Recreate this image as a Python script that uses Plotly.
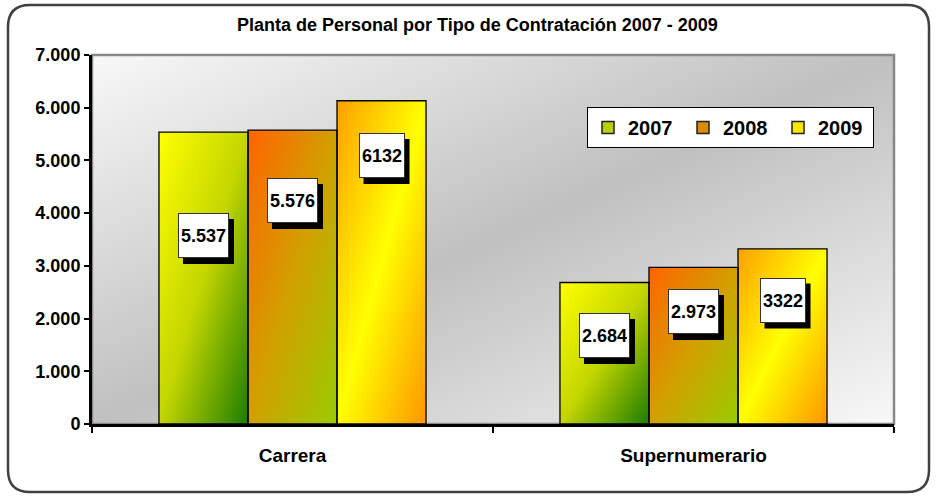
import base64
import plotly.graph_objects as go

# ---------------- data ----------------
categories = ["Carrera", "Supernumerario"]
years = ["2007", "2008", "2009"]
values_2007 = [5537, 2684]
values_2008 = [5576, 2973]
values_2009 = [6132, 3322]
labels_2007 = ["5.537", "2.684"]
labels_2008 = ["5.576", "2.973"]
labels_2009 = ["6132", "3322"]
# vertical placement of the value boxes (axis units)
label_y_2007 = [3576, 1679]
label_y_2008 = [4240, 2134]
label_y_2009 = [5093, 2352]
y_tickvals = [0, 1000, 2000, 3000, 4000, 5000, 6000, 7000]
y_ticktext = ["0", "1.000", "2.000", "3.000", "4.000", "5.000", "6.000", "7.000"]
title_text = "Planta de Personal por Tipo de Contratación 2007 - 2009"

series_values = [values_2007, values_2008, values_2009]
series_labels = [labels_2007, labels_2008, labels_2009]
series_label_y = [label_y_2007, label_y_2008, label_y_2009]

# ---------------- styles ----------------
SANS = "Liberation Sans, Arial, sans-serif"
solid_colors = ["#b9cf00", "#dc8a00", "#ffe600"]
grad_stops = [
    [(0, "#ffff00"), (0.5, "#c4d600"), (1, "#1c7c00")],
    [(0, "#ff6400"), (0.5, "#d2a000"), (1, "#99cc00")],
    [(0, "#ffa000"), (0.5, "#ffff00"), (1, "#ff9600")],
]
bg_stops = [(0, "#f8f8f8"), (0.5, "#c0c0c0"), (1, "#f8f8f8")]
LAB_SIZE = 18
LAB_PAD = 2
LAB_H = 39
SHADOW_DX, SHADOW_DY = 5, 6


def grad_uri(stops):
    s = "".join(f'<stop offset="{o}" stop-color="{c}"/>' for o, c in stops)
    svg = ('<svg xmlns="http://www.w3.org/2000/svg" width="100" height="100" '
           'viewBox="0 0 100 100" preserveAspectRatio="none"><defs>'
           '<linearGradient id="g" x1="0" y1="0" x2="1" y2="1">' + s +
           '</linearGradient></defs><rect x="0" y="0" width="100" height="100" fill="url(#g)"/></svg>')
    return "data:image/svg+xml;base64," + base64.b64encode(svg.encode()).decode()


def text_w(t):
    # approximate width of bold Liberation Sans text
    return round(sum((0.278 if ch in ".," else 0.556) * LAB_SIZE for ch in t))


W, H = 936, 497
ML, MR, MT, MB = 92, 42, 55, 73
PW, PH = W - ML - MR, H - MT - MB
bargap = 0.334
bw = (1 - bargap) / len(years)
xpos = list(range(len(categories)))

fig = go.Figure()

# bars (outline only; gradient fill drawn as images below)
for k, yr in enumerate(years):
    fig.add_trace(go.Bar(
        x=xpos, y=series_values[k], offsetgroup=yr, showlegend=False,
        marker=dict(color="rgba(0,0,0,0)", line=dict(color="black", width=1.3)),
        hoverinfo="skip"))
# legend entries
for k, yr in enumerate(years):
    fig.add_trace(go.Bar(
        x=[None], y=[None], name=yr, offsetgroup=yr,
        marker=dict(color=solid_colors[k], line=dict(color="#222", width=1.5))))

images = [dict(source=grad_uri(bg_stops), xref="paper", yref="paper", x=0, y=1,
               sizex=1, sizey=1, xanchor="left", yanchor="top", sizing="stretch",
               layer="below")]
annotations = []
shapes = []
lab_font = dict(family=SANS, size=LAB_SIZE, color="black", weight="bold")
for k, yr in enumerate(years):
    uri = grad_uri(grad_stops[k])
    for i in xpos:
        cx = i + (k - (len(years) - 1) / 2) * bw
        v = series_values[k][i]
        ly = series_label_y[k][i]
        txt = series_labels[k][i]
        images.append(dict(source=uri, xref="x", yref="y", x=cx - bw / 2, y=v,
                           sizex=bw, sizey=v, xanchor="left", yanchor="top",
                           sizing="stretch", layer="below"))
        tw = text_w(txt)
        ow = tw + 2 * LAB_PAD + 2
        oh = LAB_H + 2 * LAB_PAD + 2
        shapes.append(dict(type="rect", xref="x", yref="y", xsizemode="pixel",
                           ysizemode="pixel", xanchor=cx, yanchor=ly,
                           x0=-ow / 2 + SHADOW_DX, x1=ow / 2 + SHADOW_DX,
                           y0=-oh / 2 - SHADOW_DY, y1=oh / 2 - SHADOW_DY,
                           fillcolor="black", line=dict(width=0), layer="above"))
        annotations.append(dict(x=cx, y=ly, xref="x", yref="y", text=txt,
                                showarrow=False, borderwidth=1, borderpad=LAB_PAD,
                                width=tw, height=LAB_H, font=lab_font,
                                bgcolor="white", bordercolor="#333333"))

annotations.append(dict(text=title_text, xref="paper", yref="paper",
                        x=(477 - ML) / PW, y=(MT + PH - 25) / PH, showarrow=False,
                        xanchor="center", yanchor="middle",
                        font=dict(family=SANS, size=18, color="black", weight="bold")))


def fx(px):
    return (px - ML) / PW


def fy(py):
    return (MT + PH - py) / PH


L, R, T, B, r = 8, 929, 5, 492, 22
frame = (f"M {fx(L+r)},{fy(T)} L {fx(R-r)},{fy(T)} Q {fx(R)},{fy(T)} {fx(R)},{fy(T+r)} "
         f"L {fx(R)},{fy(B-r)} Q {fx(R)},{fy(B)} {fx(R-r)},{fy(B)} "
         f"L {fx(L+r)},{fy(B)} Q {fx(L)},{fy(B)} {fx(L)},{fy(B-r)} "
         f"L {fx(L)},{fy(T+r)} Q {fx(L)},{fy(T)} {fx(L+r)},{fy(T)} Z")

shapes = [
    dict(type="rect", xref="paper", yref="paper", x0=0, x1=1, y0=0, y1=1,
         line=dict(color="#888888", width=2.5), layer="below"),
    dict(type="path", xref="paper", yref="paper", path=frame,
         line=dict(color="#404040", width=2.5)),
] + shapes

fig.update_layout(
    width=W, height=H, autosize=False,
    margin=dict(l=ML, r=MR, t=MT, b=MB, pad=0),
    paper_bgcolor="white", plot_bgcolor="rgba(0,0,0,0)",
    barmode="group", bargap=bargap, bargroupgap=0,
    showlegend=True,
    legend=dict(orientation="h", x=fx(587), y=fy(107), xanchor="left", yanchor="top",
                bgcolor="white", bordercolor="black", borderwidth=1,
                font=dict(family=SANS, size=20, color="black", weight="bold"),
                entrywidth=50, itemwidth=30, traceorder="normal"),
    xaxis=dict(range=[-0.5, 1.5], tickmode="array", tickvals=xpos, ticktext=categories,
               ticks="", showline=True, linecolor="black", linewidth=3,
               showgrid=False, zeroline=False, ticklabelstandoff=12,
               tickfont=dict(family=SANS, size=19, color="black", weight="bold"),
               minor=dict(tickmode="array", tickvals=[-0.5, 0.5, 1.5], ticks="outside",
                          ticklen=6, tickwidth=2, tickcolor="black", showgrid=False)),
    yaxis=dict(range=[0, 7000], tickmode="array", tickvals=y_tickvals, ticktext=y_ticktext,
               ticks="outside", ticklen=5, tickwidth=2, tickcolor="black",
               showline=True, linecolor="black", linewidth=3,
               showgrid=False, zeroline=False,
               tickfont=dict(family=SANS, size=18, color="black", weight="bold")),
    images=images, shapes=shapes, annotations=annotations,
)

fig.write_html("out.html", config={"displayModeBar": False},
               post_script="document.body.style.margin='0';document.body.style.overflow='hidden';")
